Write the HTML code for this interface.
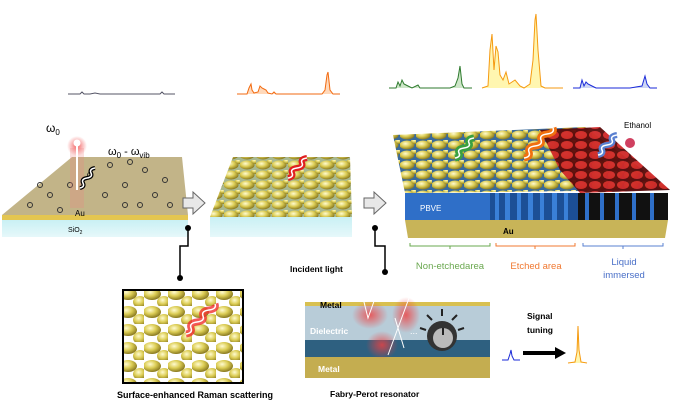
<!DOCTYPE html>
<html><head><meta charset="utf-8"><style>
html,body{margin:0;padding:0;background:#fff;}
svg{display:block;font-family:"Liberation Sans",sans-serif;}
</style></head><body>
<svg width="682" height="418" viewBox="0 0 682 418" xmlns="http://www.w3.org/2000/svg">
<defs>
<radialGradient id="au" cx="40%" cy="35%" r="65%"><stop offset="0" stop-color="#fffbd0"/><stop offset=".5" stop-color="#dccd55"/><stop offset="1" stop-color="#8a7a20"/></radialGradient>
<radialGradient id="glow" cx="50%" cy="50%" r="50%"><stop offset="0" stop-color="#f04040" stop-opacity=".8"/><stop offset="1" stop-color="#f04040" stop-opacity="0"/></radialGradient>
<linearGradient id="sio" x1="0" y1="0" x2="0" y2="1"><stop offset="0" stop-color="#c9f0f4"/><stop offset="1" stop-color="#e6f8fa"/></linearGradient>
<pattern id="np" width="16" height="10" patternUnits="userSpaceOnUse"><rect width="16" height="10" fill="#a8b890"/><ellipse cx="7" cy="5" rx="7.5" ry="4.5" fill="url(#au)"/><ellipse cx="15" cy="1" rx="4" ry="3" fill="url(#au)"/></pattern>
<pattern id="np3" width="16" height="10" patternUnits="userSpaceOnUse"><rect width="16" height="10" fill="#3a6a9a"/><ellipse cx="7" cy="5" rx="7.5" ry="4.5" fill="url(#au)"/><ellipse cx="15" cy="1" rx="4" ry="3" fill="url(#au)"/></pattern>
<pattern id="np2" width="24" height="18" patternUnits="userSpaceOnUse"><rect width="24" height="18" fill="#fff"/><ellipse cx="8" cy="6" rx="9" ry="6" fill="url(#au)"/><ellipse cx="20" cy="14" rx="7" ry="6" fill="url(#au)"/></pattern>
<pattern id="red" width="14" height="10" patternUnits="userSpaceOnUse"><rect width="14" height="10" fill="#5a0a0a"/><ellipse cx="7" cy="5" rx="6" ry="4" fill="#d02828"/></pattern>
</defs>

<!-- top spectra -->
<polyline points="68,94 80,94 82,92 84,94 90,94 95,93 100,94 160,94 162,92 164,94 175,94" fill="none" stroke="#556" stroke-width="1"/>
<polyline points="237,94 247,94 249,88 251,84 252,90 254,93 258,92 260,86 262,88 264,89 266,90 268,93 272,94 274,92 276,94 305,94 322,94 325,90 327,75 328,72 330,90 333,94 340,94" fill="#ffd9bb" stroke="#f26a10" stroke-width="1"/>
<polyline points="389,88 396,88 398,82 400,86 402,80 404,84 408,86 412,88 418,85 420,88 440,88 450,88 455,86 458,78 460,66 462,84 464,88 472,88" fill="#cde6c8" stroke="#2d7a2d" stroke-width="1"/>
<polyline points="482,88 488,86 490,50 492,34 494,70 496,46 498,52 500,75 503,80 506,72 509,84 512,82 515,80 520,86 524,88 530,84 533,60 535,20 536,14 538,50 541,86 545,88 563,88" fill="#fff6b0" stroke="#f59a10" stroke-width="1"/>
<polyline points="573,88 580,88 582,80 584,86 586,82 588,84 592,86 596,88 630,88 642,86 645,76 647,84 650,88 657,88" fill="#cdd6f4" stroke="#1a2ad8" stroke-width="1"/>

<!-- slab 1 -->
<polygon points="2,220 188,220 188,237 2,237" fill="url(#sio)"/>
<polygon points="2,215 188,215 188,220 2,220" fill="#e4c650"/>
<polygon points="72,157 182,157 188,215 2,215" fill="#c2b488"/>
<g stroke="#333" stroke-width="1" fill="none">
<circle cx="30" cy="205" r="2.5"/><circle cx="50" cy="195" r="2.5"/><circle cx="70" cy="185" r="2.5"/><circle cx="90" cy="175" r="2.5"/><circle cx="110" cy="165" r="2.5"/><circle cx="125" cy="185" r="2.5"/><circle cx="145" cy="170" r="2.5"/><circle cx="155" cy="195" r="2.5"/><circle cx="125" cy="205" r="2.5"/><circle cx="105" cy="195" r="2.5"/><circle cx="60" cy="210" r="2.5"/><circle cx="140" cy="205" r="2.5"/><circle cx="165" cy="180" r="2.5"/><circle cx="40" cy="185" r="2.5"/><circle cx="130" cy="162" r="2.5"/><circle cx="170" cy="205" r="2.5"/>
</g>
<circle cx="77" cy="146" r="10" fill="url(#glow)"/>
<rect x="70" y="148" width="14" height="60" fill="#f08080" opacity=".25"/>
<line x1="77" y1="143" x2="77" y2="190" stroke="#fff" stroke-width="2"/>
<circle cx="77" cy="143" r="3.5" fill="#fff"/>
<path d="M80,188 q5,-1 3,-5 t4,-5 t4,-5 t4,-5" fill="none" stroke="#000" stroke-width="4"/>
<path d="M80,188 q5,-1 3,-5 t4,-5 t4,-5 t4,-5" fill="none" stroke="#fff" stroke-width="1.5"/>
<text x="46" y="132" font-size="12">ω<tspan font-size="8" dy="3">0</tspan></text>
<text x="108" y="155" font-size="11">ω<tspan font-size="8" dy="3">0</tspan><tspan dy="-3"> - ω</tspan><tspan font-size="8" dy="3">vib</tspan></text>
<text x="75" y="216" font-size="8">Au</text>
<text x="68" y="232" font-size="7">SiO<tspan font-size="5" dy="2">2</tspan></text>

<!-- arrows -->
<polygon points="183,198 193,198 193,192 205,203 193,214 193,208 183,208" fill="#e8e8e8" stroke="#666"/>
<polygon points="364,198 374,198 374,192 386,203 374,214 374,208 364,208" fill="#e8e8e8" stroke="#666"/>

<!-- slab 2 -->
<polygon points="210,217 352,217 352,237 210,237" fill="url(#sio)"/>
<polygon points="233,157 350,157 352,217 210,217" fill="url(#np)"/>
<path d="M288,178 q6,-1 4,-5 t5,-5 t5,-5 t5,-5" fill="none" stroke="#e02020" stroke-width="6"/>
<path d="M288,178 q6,-1 4,-5 t5,-5 t5,-5 t5,-5" fill="none" stroke="#fff" stroke-width="1.5"/>

<!-- slab 3 -->
<polygon points="405,220 668,220 665,238 408,238" fill="#c8b458"/>
<polygon points="405,193 668,193 668,220 405,220" fill="#2f6fc8"/>
<rect x="490" y="193" width="88" height="27" fill="#1c4f96"/>
<g fill="#3a80d8"><rect x="495" y="193" width="4" height="27"/><rect x="505" y="193" width="5" height="27"/><rect x="517" y="193" width="4" height="27"/><rect x="528" y="193" width="5" height="27"/><rect x="540" y="193" width="4" height="27"/><rect x="552" y="193" width="5" height="27"/><rect x="564" y="193" width="4" height="27"/></g>
<rect x="578" y="193" width="90" height="27" fill="#111"/>
<g fill="#2f6fc8"><rect x="585" y="193" width="4" height="27"/><rect x="600" y="193" width="4" height="27"/><rect x="615" y="193" width="4" height="27"/><rect x="632" y="193" width="4" height="27"/><rect x="650" y="193" width="4" height="27"/></g>
<polygon points="393,135 585,127 670,190 405,193" fill="url(#np3)"/>
<polygon points="540,130 600,127 670,190 580,193 560,170" fill="url(#red)" opacity=".95"/>
<circle cx="630" cy="143" r="5" fill="#d04060"/>
<path d="M455,158 q6,-1 4,-5 t5,-5 t5,-5 t5,-5" fill="none" stroke="#3aa040" stroke-width="7"/>
<path d="M455,158 q6,-1 4,-5 t5,-5 t5,-5 t5,-5" fill="none" stroke="#fff" stroke-width="1.5"/>
<path d="M524,158 q7,-1 5,-6 t6,-6 t6,-6 t6,-6 t6,-6" fill="none" stroke="#f07010" stroke-width="7"/>
<path d="M524,158 q7,-1 5,-6 t6,-6 t6,-6 t6,-6 t6,-6" fill="none" stroke="#fff" stroke-width="1.5"/>
<path d="M598,155 q6,-1 4,-5 t5,-5 t5,-5 t5,-5" fill="none" stroke="#5a80d0" stroke-width="6"/>
<path d="M598,155 q6,-1 4,-5 t5,-5 t5,-5 t5,-5" fill="none" stroke="#fff" stroke-width="1.5"/>
<text x="624" y="128" font-size="8">Ethanol</text>
<text x="420" y="211" font-size="8" fill="#fff">PBVE</text>
<text x="503" y="234" font-size="8" font-weight="bold">Au</text>
<path d="M410,243 V246 H490 V243 M450,246 V249" fill="none" stroke="#6aa84f"/>
<path d="M496,243 V246 H575 V243 M535,246 V249" fill="none" stroke="#f07830"/>
<path d="M583,243 V246 H663 V243 M623,246 V249" fill="none" stroke="#5a80d0"/>
<text x="450" y="269" font-size="9.5" fill="#6aa84f" text-anchor="middle">Non-etchedarea</text>
<text x="536" y="269" font-size="9.5" fill="#f07830" text-anchor="middle">Etched area</text>
<text x="624" y="265" font-size="9.5" fill="#4a70c8" text-anchor="middle">Liquid</text>
<text x="624" y="278" font-size="9.5" fill="#4a70c8" text-anchor="middle">immersed</text>

<!-- connectors -->
<path d="M188,228 V246 H180 V278" fill="none" stroke="#000" stroke-width="1.5"/>
<circle cx="188" cy="228" r="3" fill="#000"/><circle cx="180" cy="278" r="3" fill="#000"/>
<path d="M375,228 V246 H385 V272" fill="none" stroke="#000" stroke-width="1.5"/>
<circle cx="375" cy="228" r="3" fill="#000"/><circle cx="385" cy="272" r="3" fill="#000"/>

<!-- SERS box -->
<rect x="123" y="290" width="120" height="93" fill="url(#np2)" stroke="#000" stroke-width="2"/>
<path d="M186,334 q7,-1 5,-6 t6,-6 t6,-6 t6,-6 t6,-6" fill="none" stroke="#f03030" stroke-width="7" opacity=".8"/>
<path d="M186,334 q7,-1 5,-6 t6,-6 t6,-6 t6,-6 t6,-6" fill="none" stroke="#fff" stroke-width="1.5"/>
<text x="195" y="398" font-size="9" font-weight="bold" text-anchor="middle">Surface-enhanced Raman scattering</text>

<!-- FP resonator -->
<rect x="305" y="303" width="185" height="54" fill="#b8ccd8"/>
<polygon points="305,340 490,340 490,357 305,357" fill="#2e6080"/>
<rect x="305" y="302" width="185" height="4" fill="#d8c050"/>
<rect x="305" y="357" width="185" height="21" fill="#c4ad50"/>
<ellipse cx="370" cy="315" rx="18" ry="14" fill="url(#glow)"/>
<ellipse cx="382" cy="345" rx="16" ry="14" fill="url(#glow)"/>
<ellipse cx="406" cy="315" rx="14" ry="18" fill="url(#glow)"/>
<polyline points="359,282 368,318 378,290" fill="none" stroke="#fff" stroke-width="1"/>
<polyline points="388,355 412,290" fill="none" stroke="#fff" stroke-width="1"/>
<polyline points="395,318 404,348" fill="none" stroke="#fff" stroke-width="1"/>
<text x="410" y="334" font-size="9" fill="#fff">...</text>
<g stroke="#222" stroke-width="2"><line x1="442" y1="316" x2="442" y2="309"/><line x1="432" y1="320" x2="427" y2="315"/><line x1="452" y1="320" x2="457" y2="315"/><line x1="426" y1="330" x2="420" y2="328"/><line x1="458" y1="330" x2="464" y2="328"/></g>
<circle cx="442" cy="336" r="15" fill="#333"/>
<circle cx="443" cy="338" r="10" fill="#bbb"/>
<line x1="443" y1="328" x2="443" y2="335" stroke="#222" stroke-width="2"/>
<text x="320" y="308" font-size="8.5" font-weight="bold">Metal</text>
<text x="310" y="334" font-size="8.5" font-weight="bold" fill="#fff">Dielectric</text>
<text x="318" y="372" font-size="8.5" font-weight="bold" fill="#fff">Metal</text>
<text x="290" y="272" font-size="8.5" font-weight="bold">Incident light</text>
<text x="330" y="397" font-size="8.5" font-weight="bold">Fabry-Perot resonator</text>
<text x="527" y="319" font-size="8.5" font-weight="bold">Signal</text>
<text x="527" y="333" font-size="8.5" font-weight="bold">tuning</text>
<line x1="523" y1="353" x2="555" y2="353" stroke="#000" stroke-width="4"/>
<polygon points="555,347 566,353 555,359" fill="#000"/>
<polyline points="502,360 508,360 510,354 511,350 512,356 514,360 520,360" fill="none" stroke="#1a2ad8" stroke-width="1"/>
<polyline points="568,363 575,362 577,352 578,326 579,350 581,362 587,363" fill="#fff6b0" stroke="#f59a10" stroke-width="1"/>
</svg>
</body></html>
